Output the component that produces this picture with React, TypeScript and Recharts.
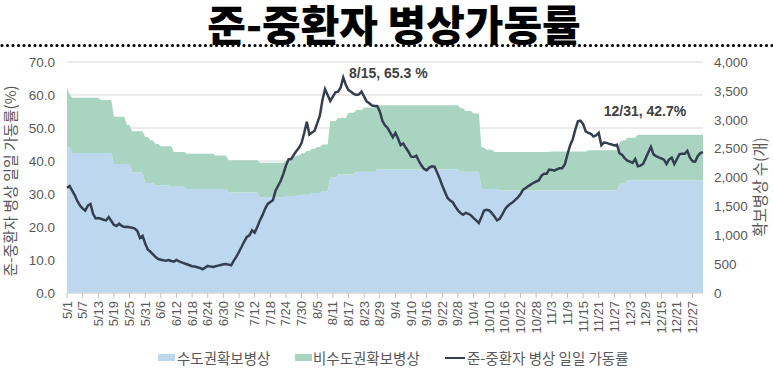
import React from "react";
import {
  ComposedChart,
  Area,
  Line,
  XAxis,
  YAxis,
  CartesianGrid,
  LabelList,
} from "recharts";

// month, number of days
const months: [number, number][] = [
  [5, 31], [6, 30], [7, 31], [8, 31], [9, 30], [10, 31], [11, 30], [12, 31],
];

// 준-중환자 병상 일일 가동률 (%), daily from 5/1 to 12/31
const utilization: number[] = [
  31.9, 32.4, 31.0, 29.6, 27.8, 26.5, 25.6, 25.0, 26.5, 27.0,
  24.0, 22.6, 22.7, 22.5, 22.2, 22.0, 23.0, 21.8, 20.6, 20.3,
  21.0, 20.3, 20.0, 20.1, 19.9, 19.8, 19.5, 18.8, 16.7, 17.3,
  15.0, 13.2, 12.5, 11.7, 10.9, 10.3, 10.1, 9.9, 9.8, 10.0,
  9.7, 9.5, 10.0, 9.6, 9.3, 9.0, 8.7, 8.4, 8.1, 8.0,
  7.8, 7.6, 7.2, 7.7, 8.2, 8.0, 7.9, 8.1, 8.3, 8.5,
  8.7, 8.8, 8.6, 8.4, 9.8, 11.0, 12.5, 14.0, 15.6, 17.0,
  17.5, 19.0, 18.3, 20.0, 22.0, 23.6, 25.5, 27.0, 27.6, 28.1,
  31.0, 32.5, 34.0, 36.1, 38.6, 40.5, 40.6, 41.8, 43.0, 44.0,
  45.5, 48.5, 51.9, 48.0, 48.6, 49.2, 51.5, 53.7, 58.5, 61.8,
  60.0, 58.2, 59.5, 60.8, 61.0, 62.3, 65.3, 63.0, 61.5, 61.0,
  60.3, 60.0, 60.2, 61.0, 59.5, 58.0, 57.5, 56.8, 56.7, 56.7,
  55.0, 52.2, 50.8, 50.0, 48.6, 47.2, 48.5, 46.8, 44.8, 45.3,
  44.0, 42.8, 41.3, 41.2, 41.6, 40.0, 38.6, 37.6, 37.2, 38.0,
  38.4, 38.3, 36.5, 34.6, 32.5, 30.6, 28.8, 28.0, 27.5, 26.2,
  25.0, 24.2, 23.7, 24.3, 24.0, 23.5, 22.7, 22.0, 21.2, 23.0,
  25.0, 25.2, 25.0, 24.2, 23.2, 22.0, 22.5, 23.8, 25.3, 26.3,
  27.0, 27.5, 28.2, 29.0, 30.0, 31.3, 31.8, 32.4, 32.9, 33.4,
  33.8, 34.1, 35.5, 36.1, 36.1, 37.4, 37.3, 37.1, 37.5, 37.8,
  37.8, 39.0, 42.0, 44.7, 46.5, 49.5, 52.0, 52.2, 51.2, 49.0,
  48.5, 48.2, 47.4, 47.8, 48.5, 44.8, 45.6, 45.5, 45.2, 45.0,
  44.7, 44.9, 42.3, 41.8, 40.8, 40.1, 39.8, 39.4, 40.6, 38.4,
  38.6, 39.1, 40.8, 42.6, 44.3, 42.0, 41.5, 41.1, 40.8, 40.4,
  39.1, 40.5, 41.0, 39.1, 40.6, 42.1, 42.2, 42.2, 43.1, 41.0,
  39.9, 39.8, 41.5, 42.4, 42.7,
];

// 수도권 확보병상 (개): runs of [number of days, beds]
const capitalBedRuns: [number, number][] = [
  [2, 2520], [16, 2425], [7, 2235], [5, 2090], [4, 1902], [6, 1860],
  [6, 1840], [16, 1800], [12, 1740], [10, 1660], [5, 1680], [5, 1700],
  [4, 1730], [3, 1760], [3, 2000], [7, 2050], [8, 2100], [32, 2140],
  [8, 2100], [7, 1800], [46, 1775], [3, 1890], [30, 1950],
];

// 전체 확보병상 (수도권 + 비수도권): runs of [number of days, beds]
const totalBedRuns: [number, number][] = [
  [1, 3560], [1, 3440], [11, 3380], [5, 3340], [5, 3050], [2, 2910],
  [5, 2800], [2, 2700], [2, 2640], [2, 2580], [5, 2540], [5, 2440],
  [11, 2410], [5, 2380], [12, 2300], [10, 2255], [1, 2290], [1, 2320],
  [2, 2340], [2, 2380], [2, 2420], [2, 2460], [2, 2500], [2, 2530],
  [3, 2570], [3, 2980], [4, 3030], [3, 3120], [3, 3170], [5, 3210],
  [32, 3250], [2, 3200], [3, 3150], [3, 3110], [2, 2520], [3, 2480],
  [22, 2440], [14, 2450], [12, 2470], [1, 2600], [2, 2640], [4, 2690],
  [26, 2740],
];

const leftTicks = [0, 10, 20, 30, 40, 50, 60, 70];
const rightTicks = [0, 500, 1000, 1500, 2000, 2500, 3000, 3500, 4000];

const annotations: Record<number, string> = {
  106: "8/15, 65.3 %",
  244: "12/31, 42.7%",
};

const expandRuns = (runs: [number, number][]) => {
  const out: number[] = [];
  runs.forEach(([n, v]) => {
    for (let k = 0; k < n; k++) out.push(v);
  });
  return out;
};

const dates: string[] = [];
months.forEach(([m, n]) => {
  for (let d = 1; d <= n; d++) dates.push(`${m}/${d}`);
});

const capitalBeds = expandRuns(capitalBedRuns);
const totalBeds = expandRuns(totalBedRuns);

const data = dates.map((date, i) => ({
  date,
  capital: capitalBeds[i],
  nonCapital: totalBeds[i] - capitalBeds[i],
  rate: utilization[i],
}));

const GRAY = "#595959";
const FONT = "'Liberation Sans', 'Noto Sans CJK KR', sans-serif";
const KFONT = "'Noto Sans CJK KR', sans-serif";

const XTick = (props: any) => {
  const { x, y, payload } = props;
  return (
    <g transform={`translate(${x},${y})`}>
      <text
        transform="rotate(-90)"
        x={0}
        y={0}
        dy={4.5}
        textAnchor="end"
        fill={GRAY}
        fontSize={13}
        fontFamily={FONT}
      >
        {payload.value}
      </text>
    </g>
  );
};

const AnnotationLabel = (props: any) => {
  const { x, y, index } = props;
  const txt = annotations[index];
  if (!txt) return null;
  const isPeak = index === 106;
  return (
    <text
      x={x + (isPeak ? 45 : -58)}
      y={y + (isPeak ? 0 : -36)}
      textAnchor="middle"
      fill="#404040"
      fontSize={14}
      fontWeight="bold"
      fontFamily={FONT}
    >
      {txt}
    </text>
  );
};

const legendText: React.CSSProperties = {
  position: "absolute",
  top: 348,
  fontFamily: KFONT,
  fontSize: 14.5,
  color: GRAY,
  lineHeight: "20px",
  whiteSpace: "nowrap",
};

export default function App() {
  return (
    <div
      style={{
        position: "absolute",
        left: 0,
        top: 0,
        width: 773,
        height: 379,
        background: "#fff",
        overflow: "hidden",
      }}
    >
      <ComposedChart
        width={773}
        height={379}
        data={data}
        margin={{ top: 62, right: 0, bottom: 0, left: 0 }}
      >
        <CartesianGrid vertical={false} stroke="#d9d9d9" yAxisId="left" />
        <XAxis
          dataKey="date"
          scale="point"
          padding={{ left: 0, right: 0 }}
          interval={5}
          height={86}
          tick={<XTick />}
          tickSize={5}
          tickMargin={3}
          tickLine={{ stroke: "#bfbfbf" }}
          axisLine={{ stroke: "#d9d9d9" }}
        />
        <YAxis
          yAxisId="left"
          domain={[0, 70]}
          ticks={leftTicks}
          width={67}
          tickFormatter={(v: number) => v.toFixed(1)}
          tick={{ fill: GRAY, fontSize: 13.5, fontFamily: FONT }}
          tickLine={false}
          axisLine={false}
          tickSize={8}
          tickMargin={4}
        />
        <YAxis
          yAxisId="right"
          orientation="right"
          domain={[0, 4000]}
          ticks={rightTicks}
          width={70}
          tickFormatter={(v: number) => v.toLocaleString("en-US")}
          tick={{ fill: GRAY, fontSize: 13.5, fontFamily: FONT, textAnchor: "start" }}
          tickLine={false}
          axisLine={false}
          tickSize={6}
          tickMargin={5}
        />
        <Area
          yAxisId="right"
          stackId="beds"
          dataKey="capital"
          type="linear"
          fill="#BDD7EE"
          fillOpacity={1}
          stroke="none"
          isAnimationActive={false}
        />
        <Area
          yAxisId="right"
          stackId="beds"
          dataKey="nonCapital"
          type="linear"
          fill="#A9D4C2"
          fillOpacity={1}
          stroke="none"
          isAnimationActive={false}
        />
        <Line
          yAxisId="left"
          dataKey="rate"
          type="linear"
          stroke="#333F50"
          strokeWidth={2.5}
          dot={false}
          isAnimationActive={false}
        >
          <LabelList dataKey="rate" content={<AnnotationLabel />} />
        </Line>
      </ComposedChart>

      <svg
        width={773}
        height={379}
        style={{ position: "absolute", left: 0, top: 0, pointerEvents: "none" }}
      >
        <line
          x1={2}
          y1={45.5}
          x2={773}
          y2={45.5}
          stroke="#000"
          strokeWidth={3.2}
          strokeLinecap="round"
          strokeDasharray="0 5.5"
        />
        <text
          x={394}
          y={41}
          textAnchor="middle"
          fontSize={42}
          fontWeight={900}
          fontFamily={KFONT}
          fill="#000"
        >
          준-중환자 병상가동률
        </text>
        <text
          transform="translate(16,181) rotate(-90)"
          textAnchor="middle"
          fontSize={15}
          fill={GRAY}
          fontFamily={KFONT}
        >
          준-중환자 병상 일일 가동률(%)
        </text>
        <text
          transform="translate(766,187) rotate(-90)"
          textAnchor="middle"
          fontSize={15.5}
          fill={GRAY}
          fontFamily={KFONT}
        >
          확보병상 수(개)
        </text>
      </svg>

      <span style={{ position: "absolute", left: 158, top: 354, width: 17, height: 7, background: "#BDD7EE" }} />
      <span style={{ ...legendText, left: 177 }}>수도권확보병상</span>
      <span style={{ position: "absolute", left: 295, top: 354, width: 17, height: 7, background: "#A9D4C2" }} />
      <span style={{ ...legendText, left: 313 }}>비수도권확보병상</span>
      <span style={{ position: "absolute", left: 445, top: 356.5, width: 20, height: 2.5, background: "#333F50" }} />
      <span style={{ ...legendText, left: 467 }}>준-중환자 병상 일일 가동률</span>
    </div>
  );
}
